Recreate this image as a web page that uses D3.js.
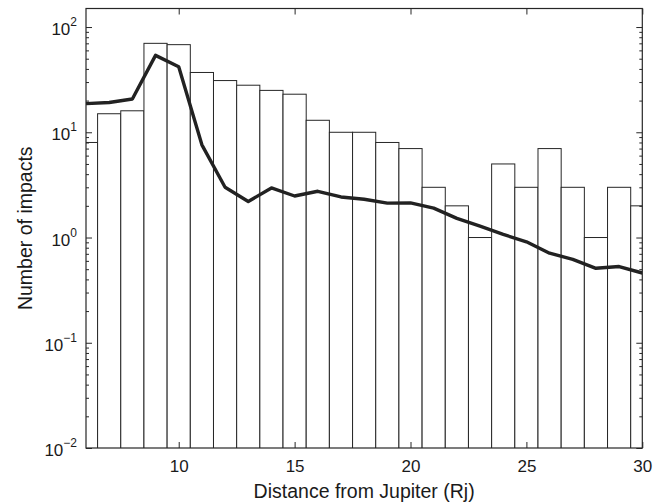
<!DOCTYPE html>
<html>
<head>
<meta charset="utf-8">
<script src="https://cdn.jsdelivr.net/npm/d3@7"></script>
<style>
  html, body { margin: 0; padding: 0; background: #fff; }
  svg { display: block; font-family: "Liberation Sans", Arial, Helvetica, sans-serif; }
</style>
</head>
<body>
<svg id="chart" width="672" height="503"></svg>
<script>
// Histogram of impacts per 1 Rj distance bin (bin centres)
const binCenters = [6, 7, 8, 9, 10, 11, 12, 13, 14, 15, 16, 17, 18, 19, 20, 21, 22, 23, 24, 25, 26, 27, 28, 29, 30];
const impactCounts = [8, 15, 16, 70, 68, 37, 31, 28, 25, 23, 13, 10, 10, 8, 7, 3, 2, 1, 5, 3, 7, 3, 1, 3, 2];

// Model curve, sampled at the same distances
const modelDistances = [6, 7, 8, 9, 10, 11, 12, 13, 14, 15, 16, 17, 18, 19, 20, 21, 22, 23, 24, 25, 26, 27, 28, 29, 30];
const modelValues = [18.7, 19.2, 20.7, 53.8, 42, 7.6, 3.0, 2.2, 2.96, 2.48, 2.75, 2.43, 2.31, 2.12, 2.13, 1.90, 1.52, 1.28, 1.07, 0.91, 0.71, 0.62, 0.51, 0.53, 0.46];

// Axis ticks
const xTicks = [10, 15, 20, 25, 30];
const yTickExponents = [-2, -1, 0, 1, 2];

const xDomain = [6, 30];
const yDomain = [0.01, 150];
const binWidth = 1;

const W = 672, H = 503;
const margin = { top: 8.5, right: 29.7, bottom: 55, left: 86 };
const iw = W - margin.left - margin.right;
const ih = H - margin.top - margin.bottom;

const svg = d3.select("#chart");
const g = svg.append("g").attr("transform", `translate(${margin.left},${margin.top})`);

const x = d3.scaleLinear().domain(xDomain).range([0, iw]);
const y = d3.scaleLog().domain(yDomain).range([ih, 0]);

const ink = "#262626";

g.append("defs").append("clipPath").attr("id", "plotClip")
  .append("rect").attr("x", 0).attr("y", 0).attr("width", iw).attr("height", ih);

const plot = g.append("g").attr("clip-path", "url(#plotClip)");

// Histogram bars, drawn from the bottom of the axis
plot.selectAll("rect.bar")
  .data(binCenters.map((c, i) => ({ c, v: impactCounts[i] })))
  .join("rect")
  .attr("class", "bar")
  .attr("x", d => x(d.c - binWidth / 2))
  .attr("width", d => x(d.c + binWidth / 2) - x(d.c - binWidth / 2))
  .attr("y", d => y(d.v))
  .attr("height", d => ih - y(d.v) + 2)
  .attr("fill", "#fff")
  .attr("stroke", ink)
  .attr("stroke-width", 1);

// Model curve
const line = d3.line()
  .x(d => x(d[0]))
  .y(d => y(d[1]));

plot.append("path")
  .datum(modelDistances.map((d, i) => [d, modelValues[i]]))
  .attr("d", line)
  .attr("fill", "none")
  .attr("stroke", "#222")
  .attr("stroke-width", 3.4)
  .attr("stroke-linejoin", "round");

// Axes (box with inward ticks on all four sides)
const majorLen = 6, minorLen = 3;
const yMajor = yTickExponents.map(e => Math.pow(10, e));
const yMinor = [];
yTickExponents.forEach(e => {
  for (let k = 2; k <= 9; k++) {
    const v = k * Math.pow(10, e);
    if (v <= yDomain[1]) yMinor.push(v);
  }
});

const bottomAxis = d3.axisBottom(x).tickValues(xTicks).tickSizeInner(-majorLen).tickSizeOuter(0).tickPadding(12).tickFormat(d3.format("d"));
const topAxis = d3.axisTop(x).tickValues(xTicks).tickSizeInner(-majorLen).tickSizeOuter(0).tickFormat("");
const leftAxis = d3.axisLeft(y).tickValues(yMajor).tickSizeInner(-majorLen).tickSizeOuter(0).tickFormat("");
const rightAxis = d3.axisRight(y).tickValues(yMajor).tickSizeInner(-majorLen).tickSizeOuter(0).tickFormat("");
const leftMinor = d3.axisLeft(y).tickValues(yMinor).tickSizeInner(-minorLen).tickSizeOuter(0).tickFormat("");
const rightMinor = d3.axisRight(y).tickValues(yMinor).tickSizeInner(-minorLen).tickSizeOuter(0).tickFormat("");

const gx = g.append("g").attr("transform", `translate(0,${ih})`).call(bottomAxis);
g.append("g").call(topAxis);
const gy = g.append("g").call(leftAxis);
g.append("g").call(leftMinor);
g.append("g").attr("transform", `translate(${iw},0)`).call(rightAxis);
g.append("g").attr("transform", `translate(${iw},0)`).call(rightMinor);

g.selectAll(".domain").remove();
g.selectAll(".tick line").attr("stroke", ink).attr("stroke-width", 1);

// Axis frame
g.append("rect")
  .attr("x", 0).attr("y", 0).attr("width", iw).attr("height", ih)
  .attr("fill", "none").attr("stroke", ink).attr("stroke-width", 1.2);

gx.selectAll(".tick text")
  .attr("font-size", 17)
  .attr("fill", "#1a1a1a")
  .attr("font-family", "'Liberation Sans', Arial, sans-serif");

// Power-of-ten labels on the y axis
const yLabels = g.append("g");
yTickExponents.forEach(e => {
  const t = yLabels.append("text")
    .attr("x", -9)
    .attr("y", y(Math.pow(10, e)) + 8)
    .attr("text-anchor", "end")
    .attr("fill", "#1a1a1a")
    .attr("font-size", 17);
  t.append("tspan").text("10");
  t.append("tspan")
    .attr("dy", -9)
    .attr("font-size", 12)
    .text(e < 0 ? "\u2212" + Math.abs(e) : String(e));
});

// Axis titles
svg.append("text")
  .attr("x", margin.left + iw / 2)
  .attr("y", 498)
  .attr("text-anchor", "middle")
  .attr("font-size", 19.5)
  .attr("fill", "#1a1a1a")
  .text("Distance from Jupiter (Rj)");

svg.append("text")
  .attr("transform", `translate(32,${margin.top + ih / 2}) rotate(-90)`)
  .attr("text-anchor", "middle")
  .attr("font-size", 19.5)
  .attr("fill", "#1a1a1a")
  .text("Number of impacts");
</script>
</body>
</html>
